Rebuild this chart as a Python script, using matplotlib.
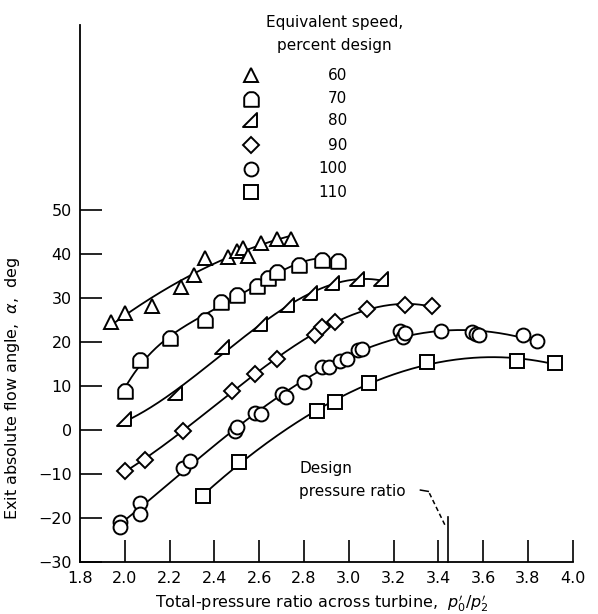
import numpy as np
import matplotlib
matplotlib.use("Agg")
from matplotlib import pyplot as plt
from matplotlib.path import Path

plt.rcParams['font.family'] = ['DejaVu Sans']

# Equivalent speed, percent design
speeds = [60, 70, 80, 90, 100, 110]

# total-pressure ratio / exit flow angle (deg) for each speed
x60 = [1.94, 2.00, 2.12, 2.25, 2.31, 2.36, 2.46, 2.50, 2.53, 2.55, 2.61, 2.68, 2.74]
y60 = [24.6, 26.5, 28.3, 32.6, 35.2, 39.2, 39.4, 40.6, 41.4, 39.6, 42.6, 43.5, 43.4]

x70 = [2.00, 2.07, 2.20, 2.36, 2.43, 2.50, 2.59, 2.64, 2.68, 2.78, 2.88, 2.95]
y70 = [9.0, 15.9, 21.0, 25.0, 29.2, 30.6, 32.8, 34.5, 36.0, 37.6, 38.7, 38.5]

x80 = [2.00, 2.23, 2.44, 2.61, 2.73, 2.83, 2.93, 3.04, 3.15]
y80 = [2.2, 8.2, 18.6, 23.8, 28.3, 31.0, 33.2, 34.1, 34.1]

x90 = [2.00, 2.09, 2.26, 2.48, 2.58, 2.68, 2.85, 2.88, 2.94, 3.08, 3.25, 3.37]
y90 = [-9.2, -6.8, -0.1, 9.0, 12.8, 16.2, 21.5, 23.4, 24.5, 27.5, 28.5, 28.1]

x100 = [1.98, 1.98, 2.07, 2.07, 2.26, 2.29, 2.49, 2.50, 2.58, 2.61, 2.70, 2.72,
        2.80, 2.88, 2.91, 2.96, 2.99, 3.04, 3.06, 3.23, 3.24, 3.25, 3.41, 3.55,
        3.57, 3.58, 3.78, 3.84]
y100 = [-20.8, -21.9, -16.5, -19.1, -8.6, -7.1, -0.1, 0.8, 4.0, 3.6, 8.2, 7.6,
        10.9, 14.3, 14.4, 15.7, 16.2, 18.1, 18.4, 22.6, 21.1, 22.0, 22.6, 22.2,
        21.9, 21.5, 21.5, 20.3]

x110 = [2.35, 2.51, 2.86, 2.94, 3.09, 3.35, 3.75, 3.92]
y110 = [-14.9, -7.3, 4.4, 6.5, 10.6, 15.4, 15.8, 15.2]

design_ratio = 3.444

# marker shapes: flat-bottomed half round and a right-angled flag triangle
arc = Path.arc(0, 180)
d_verts = np.vstack([[[-1, -1], [1, -1]], arc.vertices, [[-1, -1]]])
d_codes = [Path.MOVETO, Path.LINETO] + [Path.LINETO] * len(arc.vertices) + [Path.CLOSEPOLY]
half_round = Path(d_verts, d_codes)
flag_tri = Path([[-1, -0.8], [0.75, -0.8], [0.75, 1.0], [-1, -0.8]],
                [Path.MOVETO, Path.LINETO, Path.LINETO, Path.CLOSEPOLY])

series = [
    (x60, y60, '^', 10.0, 2),
    (x70, y70, half_round, 10.5, 4),
    (x80, y80, flag_tri, 11.5, 3),
    (x90, y90, 'D', 8.5, 3),
    (x100, y100, 'o', 10.0, 4),
    (x110, y110, 's', 9.5, 3),
]

fig = plt.figure(figsize=(5.98, 6.14), dpi=100)
ax = fig.add_axes([0.1338, 0.0842, 0.8239, 0.8751])

for xs, ys, mk, ms, deg in series:
    xs = np.asarray(xs)
    ys = np.asarray(ys)
    coef = np.polyfit(xs, ys, deg)
    xf = np.linspace(xs.min(), xs.max(), 200)
    ax.plot(xf, np.polyval(coef, xf), '-', color='black', lw=1.3, zorder=2)
    ax.plot(xs, ys, linestyle='none', marker=mk, ms=ms, mfc='white',
            mec='black', mew=1.4, zorder=3)

ax.set_xlim(1.8, 4.0)
ax.set_ylim(-30, 92)
ax.set_xticks(np.arange(1.8, 4.01, 0.2))
ax.set_xticklabels(['%.1f' % v for v in np.arange(1.8, 4.01, 0.2)])
ax.set_yticks(np.arange(-30, 51, 10))
ax.tick_params(direction='in', length=16, width=1.2, labelsize=11.5, pad=6)
ax.spines['top'].set_visible(False)
ax.spines['right'].set_visible(False)
ax.spines['left'].set_linewidth(1.3)
ax.spines['bottom'].set_linewidth(1.3)

ax.set_xlabel(r"Total-pressure ratio across turbine,  $p_0'/p_2'$", fontsize=11.5)
ax.set_ylabel(r"Exit absolute flow angle,  $\alpha$,  deg", fontsize=11.5)
ax.xaxis.set_label_coords(0.49, -0.055)
ax.yaxis.set_label_coords(-0.118, 0.3235)

# design pressure ratio marker
ax.plot([design_ratio, design_ratio], [-30, -19.8], color='black', lw=1.2, clip_on=False)
ax.text(2.778, -8.7, "Design", fontsize=11, va='center', ha='left')
ax.text(2.778, -14.0, "pressure ratio", fontsize=11, va='center', ha='left')
ax.plot([3.32, 3.355], [-13.6, -13.9], color='black', lw=1.1)
ax.plot([3.36, 3.432], [-14.3, -21.8], color='black', lw=1.1, linestyle=(0, (3, 2)))

# legend
ax.text(2.937, 92.6, "Equivalent speed,", fontsize=11, ha='center', va='center')
ax.text(2.937, 87.3, "percent design", fontsize=11, ha='center', va='center')
key_y = [80.6, 75.3, 70.3, 64.7, 59.4, 54.0]
for (xs, ys, mk, ms, deg), spd, ky in zip(series, speeds, key_y):
    ax.plot([2.564], [ky], linestyle='none', marker=mk, ms=ms, mfc='white',
            mec='black', mew=1.4, clip_on=False)
    ax.text(2.994, ky, str(spd), fontsize=11, ha='right', va='center')

fig.savefig('out.png', dpi=100)
